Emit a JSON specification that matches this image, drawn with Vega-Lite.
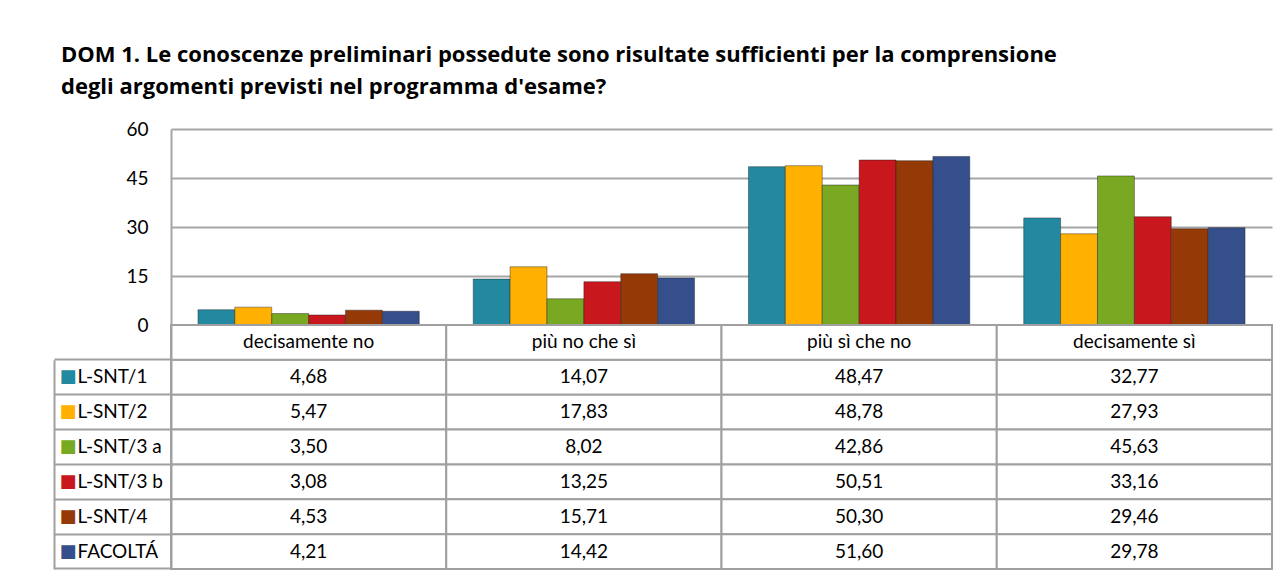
{
  "$schema": "https://vega.github.io/schema/vega-lite/v6.json",
  "padding": {"left": 53, "top": 44, "right": 16, "bottom": 5},
  "background": "white",
  "bounds": "flush",
  "config": {
    "font": "Lato",
    "view": {"stroke": null},
    "locale": {"number": {"decimal": ",", "thousands": ".", "grouping": [3], "currency": ["€", ""]}},
    "concat": {"spacing": 0}
  },
  "title": {
    "text": ["DOM 1. Le conoscenze preliminari possedute sono risultate sufficienti per la comprensione", "degli argomenti previsti nel programma d'esame?"],
    "anchor": "start",
    "fontSize": 22,
    "fontWeight": "bold",
    "font": "Open Sans",
    "color": "black",
    "lineHeight": 32,
    "dx": 8,
    "offset": 21
  },
  "datasets": {
    "valori": [
      {"cat": "decisamente no", "serie": "L-SNT/1", "valore": 4.68},
      {"cat": "più no che sì", "serie": "L-SNT/1", "valore": 14.07},
      {"cat": "più sì che no", "serie": "L-SNT/1", "valore": 48.47},
      {"cat": "decisamente sì", "serie": "L-SNT/1", "valore": 32.77},
      {"cat": "decisamente no", "serie": "L-SNT/2", "valore": 5.47},
      {"cat": "più no che sì", "serie": "L-SNT/2", "valore": 17.83},
      {"cat": "più sì che no", "serie": "L-SNT/2", "valore": 48.78},
      {"cat": "decisamente sì", "serie": "L-SNT/2", "valore": 27.93},
      {"cat": "decisamente no", "serie": "L-SNT/3 a", "valore": 3.50},
      {"cat": "più no che sì", "serie": "L-SNT/3 a", "valore": 8.02},
      {"cat": "più sì che no", "serie": "L-SNT/3 a", "valore": 42.86},
      {"cat": "decisamente sì", "serie": "L-SNT/3 a", "valore": 45.63},
      {"cat": "decisamente no", "serie": "L-SNT/3 b", "valore": 3.08},
      {"cat": "più no che sì", "serie": "L-SNT/3 b", "valore": 13.25},
      {"cat": "più sì che no", "serie": "L-SNT/3 b", "valore": 50.51},
      {"cat": "decisamente sì", "serie": "L-SNT/3 b", "valore": 33.16},
      {"cat": "decisamente no", "serie": "L-SNT/4", "valore": 4.53},
      {"cat": "più no che sì", "serie": "L-SNT/4", "valore": 15.71},
      {"cat": "più sì che no", "serie": "L-SNT/4", "valore": 50.30},
      {"cat": "decisamente sì", "serie": "L-SNT/4", "valore": 29.46},
      {"cat": "decisamente no", "serie": "FACOLTÁ", "valore": 4.21},
      {"cat": "più no che sì", "serie": "FACOLTÁ", "valore": 14.42},
      {"cat": "più sì che no", "serie": "FACOLTÁ", "valore": 51.60},
      {"cat": "decisamente sì", "serie": "FACOLTÁ", "valore": 29.78}
    ],
    "categorie": [
      {"cat": "decisamente no", "serie": " "},
      {"cat": "più no che sì", "serie": " "},
      {"cat": "più sì che no", "serie": " "},
      {"cat": "decisamente sì", "serie": " "}
    ]
  },
  "vconcat": [
    {
      "width": 1101,
      "height": 196,
      "data": {"name": "valori"},
      "mark": {"type": "bar", "stroke": "#1a1a1a", "strokeWidth": 0.7, "strokeOpacity": 0.6},
      "encoding": {
        "x": {"field": "cat", "type": "nominal", "sort": ["decisamente no", "più no che sì", "più sì che no", "decisamente sì"], "scale": {"paddingInner": 0.196, "paddingOuter": 0.098}, "axis": null},
        "xOffset": {"field": "serie", "type": "nominal", "sort": ["L-SNT/1", "L-SNT/2", "L-SNT/3 a", "L-SNT/3 b", "L-SNT/4", "FACOLTÁ"], "scale": {"paddingInner": 0, "paddingOuter": 0}},
        "y": {"field": "valore", "type": "quantitative", "scale": {"domain": [0, 60]}, "axis": {"values": [0, 15, 30, 45, 60], "title": null, "ticks": false, "labelPadding": 23, "labelFontSize": 19, "labelColor": "black", "gridColor": "#a6a6a6", "gridWidth": 2, "domainColor": "#a6a6a6", "domainWidth": 2}},
        "color": {"field": "serie", "type": "nominal", "scale": {"domain": ["L-SNT/1", "L-SNT/2", "L-SNT/3 a", "L-SNT/3 b", "L-SNT/4", "FACOLTÁ"], "range": ["#2389a0", "#ffb000", "#79a922", "#c8171d", "#953a06", "#344f8b"]}, "legend": null}
      }
    },
    {
      "width": 1101,
      "height": 244,
      "resolve": {"axis": {"y": "independent"}},
      "layer": [
        {
          "data": {"name": "valori"},
          "mark": {"type": "rect", "fill": "white", "stroke": "#a0a0a0", "strokeWidth": 2},
          "encoding": {
            "x": {"field": "cat", "type": "nominal", "sort": ["decisamente no", "più no che sì", "più sì che no", "decisamente sì"], "scale": {"paddingInner": 0, "paddingOuter": 0}, "axis": null},
            "y": {"field": "serie", "type": "nominal", "scale": {"domain": [" ", "L-SNT/1", "L-SNT/2", "L-SNT/3 a", "L-SNT/3 b", "L-SNT/4", "FACOLTÁ"], "paddingInner": 0, "paddingOuter": 0},
              "axis": {"orient": "left", "title": null, "bandPosition": 1, "tickSize": 117, "tickColor": "#a0a0a0", "tickWidth": 2, "domainColor": "#a0a0a0", "domainWidth": 2, "labelAlign": "left", "labelPadding": -23, "labelFontSize": 19, "labelColor": "black"}}
          }
        },
        {
          "data": {"name": "categorie"},
          "mark": {"type": "rect", "fill": "white", "stroke": "#a0a0a0", "strokeWidth": 2},
          "encoding": {
            "x": {"field": "cat", "type": "nominal", "sort": ["decisamente no", "più no che sì", "più sì che no", "decisamente sì"], "axis": null},
            "y": {"field": "serie", "type": "nominal", "axis": null}
          }
        },
        {
          "data": {"name": "valori"},
          "mark": {"type": "text", "fontSize": 19, "color": "black"},
          "encoding": {
            "x": {"field": "cat", "type": "nominal", "sort": ["decisamente no", "più no che sì", "più sì che no", "decisamente sì"], "axis": null},
            "y": {"field": "serie", "type": "nominal",
              "axis": {"orient": "left", "title": null, "offset": 117, "ticks": false, "domain": true, "domainColor": "#a0a0a0", "domainWidth": 2, "domainDash": [0, 34.8, 400], "labelAlign": "left", "labelPadding": -5, "labelFontSize": 18, "labelFont": "DejaVu Sans", "labelExpr": "datum.value == ' ' ? '' : '■'",
                "labelColor": {"condition": [
                  {"test": "datum.value == 'L-SNT/1'", "value": "#2389a0"},
                  {"test": "datum.value == 'L-SNT/2'", "value": "#ffb000"},
                  {"test": "datum.value == 'L-SNT/3 a'", "value": "#79a922"},
                  {"test": "datum.value == 'L-SNT/3 b'", "value": "#c8171d"},
                  {"test": "datum.value == 'L-SNT/4'", "value": "#953a06"}
                ], "value": "#344f8b"}}},
            "text": {"field": "valore", "type": "quantitative", "format": ".2f"}
          }
        },
        {
          "data": {"name": "categorie"},
          "mark": {"type": "text", "fontSize": 19, "color": "black"},
          "encoding": {
            "x": {"field": "cat", "type": "nominal", "sort": ["decisamente no", "più no che sì", "più sì che no", "decisamente sì"], "axis": null},
            "y": {"field": "serie", "type": "nominal", "axis": null},
            "text": {"field": "cat", "type": "nominal"}
          }
        }
      ]
    }
  ]
}
